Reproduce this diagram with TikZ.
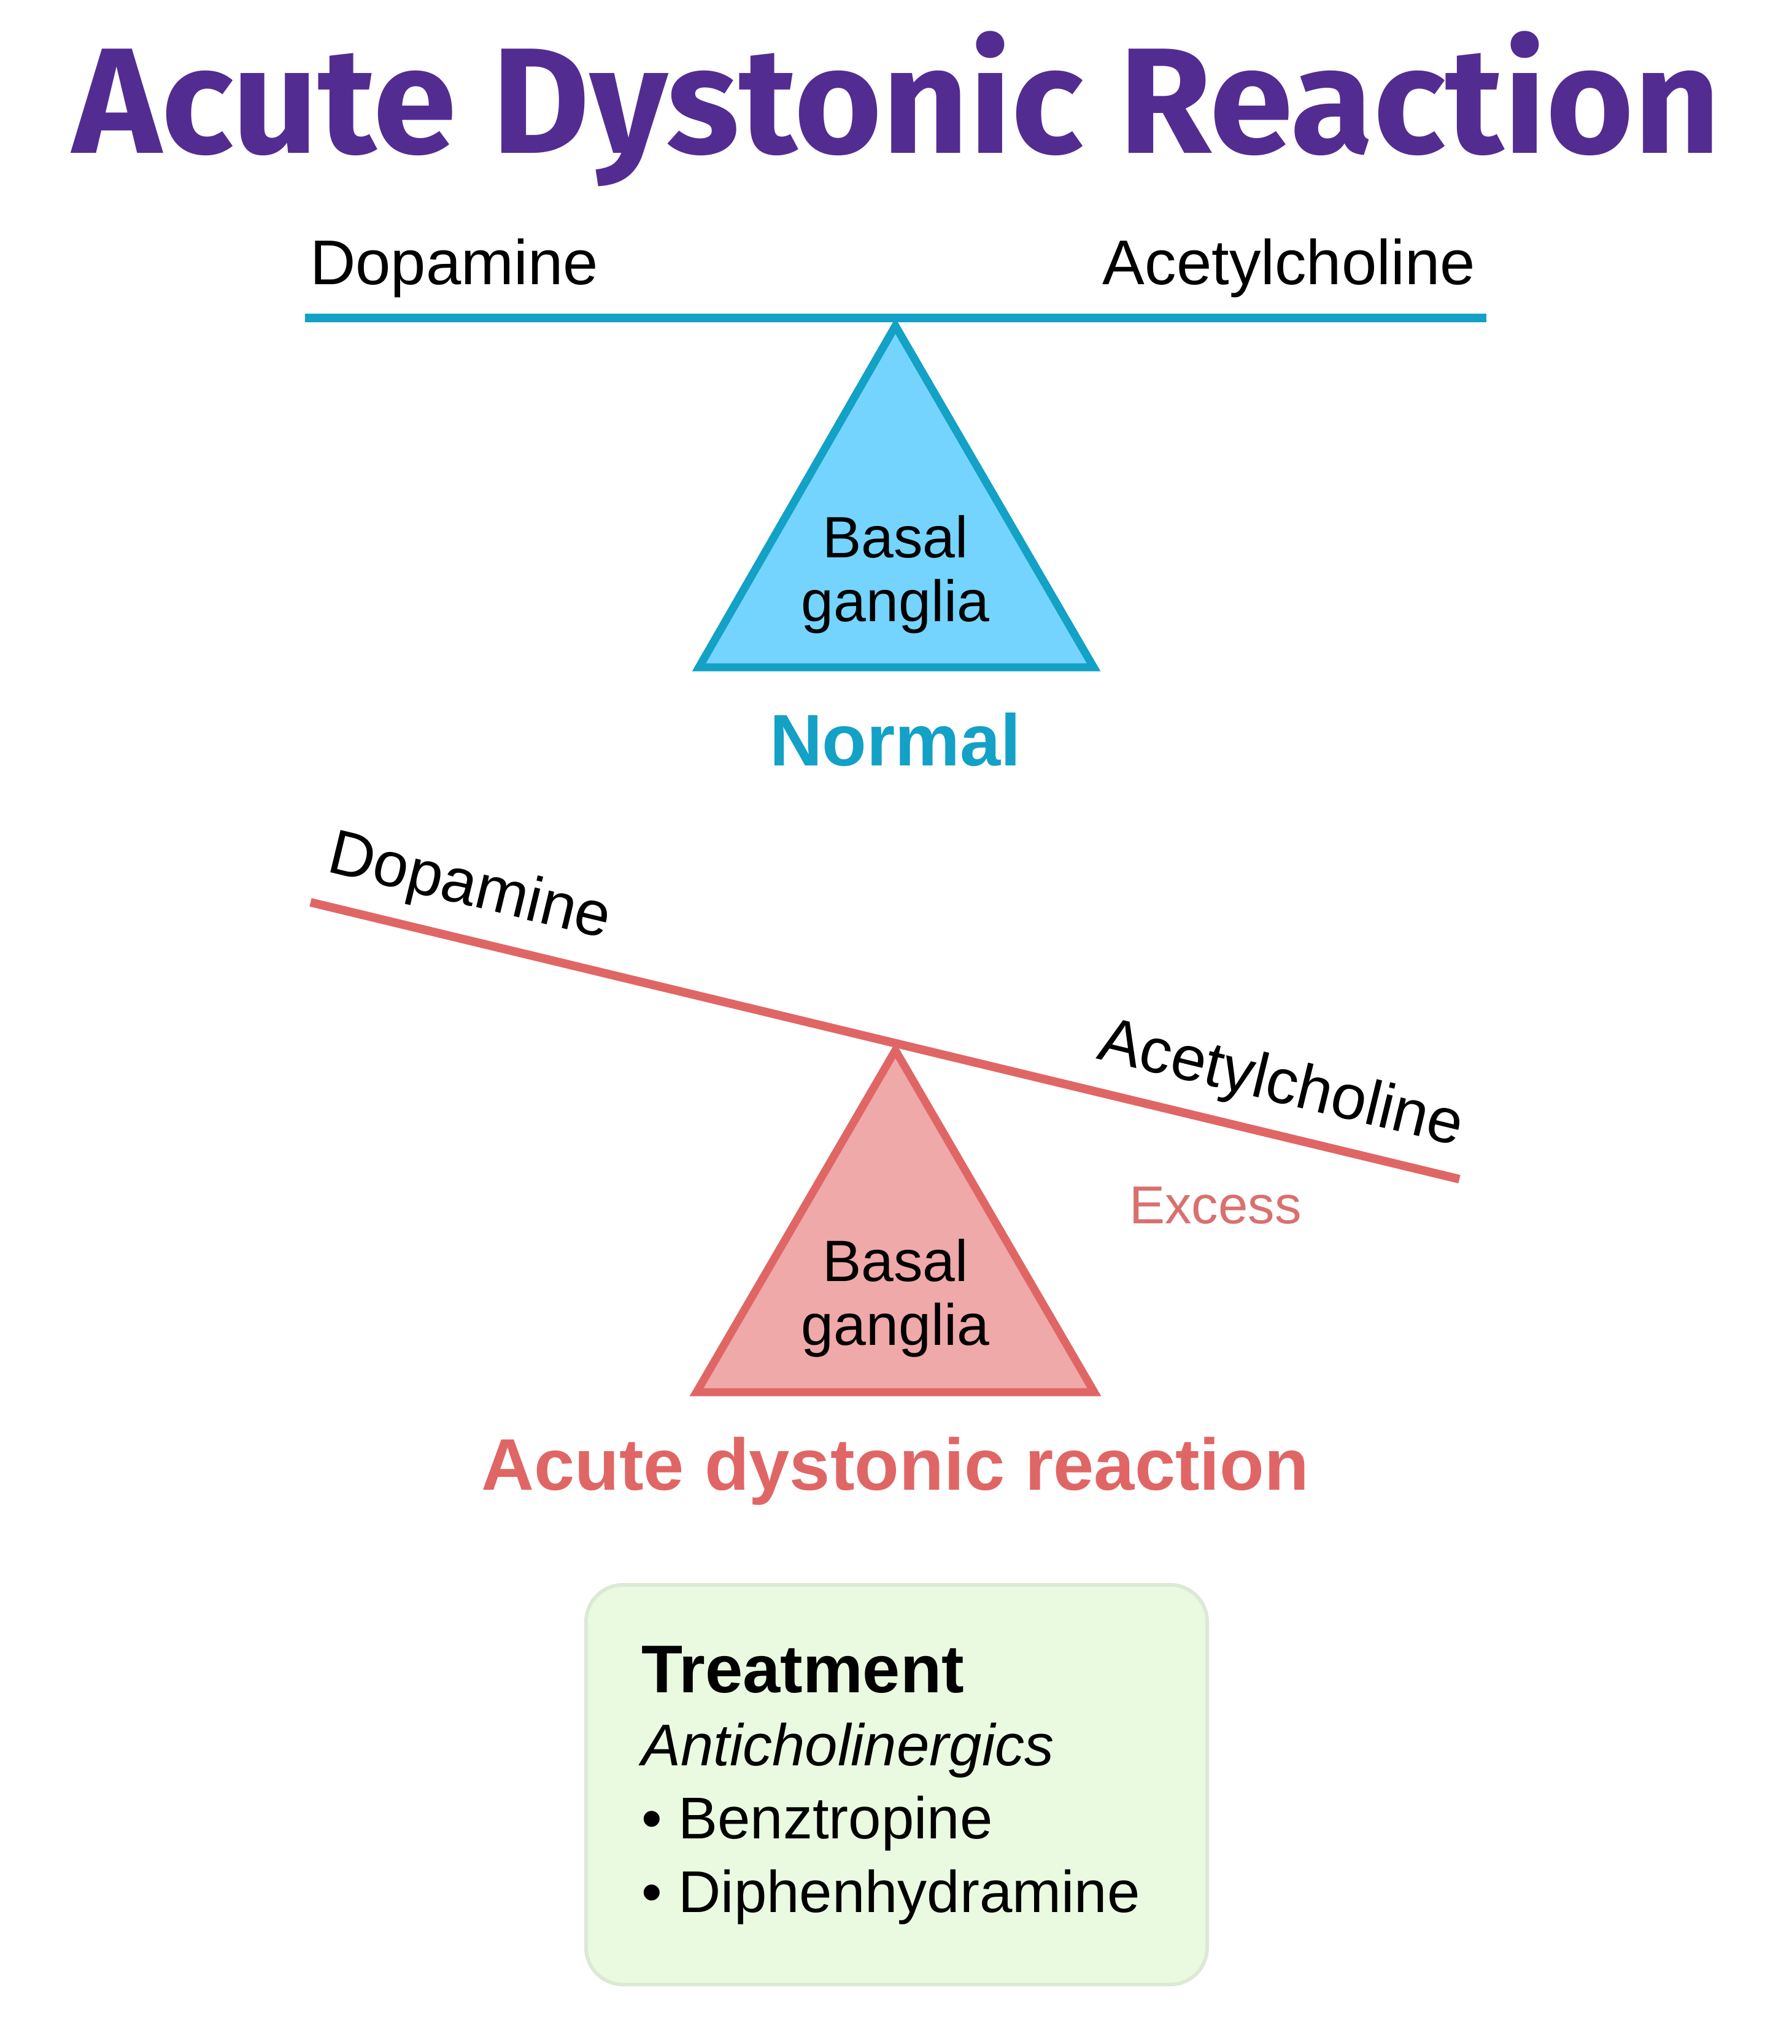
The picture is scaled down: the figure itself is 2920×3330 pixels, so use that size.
\documentclass[tikz,border=0pt]{standalone}
\usepackage{fontspec}
\setmainfont{Liberation Sans}
\newfontfamily\titlefont{Fira Sans}
\definecolor{titlepurple}{HTML}{532C91}
\definecolor{cyanline}{HTML}{13A1C6}
\definecolor{cyanfill}{HTML}{75D4FD}
\definecolor{redline}{HTML}{E06666}
\definecolor{redfill}{HTML}{EEA9A8}
\definecolor{excesscol}{HTML}{D9706F}
\definecolor{boxfill}{HTML}{E9FAE1}
\definecolor{boxline}{HTML}{DCE9D5}
\tikzset{
  lbl/.style={inner sep=0pt, font=\fontsize{103}{110}\selectfont},
  bglbl/.style={inner sep=0pt, align=center, font=\fontsize{95}{104}\selectfont},
  caption/.style={inner sep=0pt, font=\fontsize{119}{125}\selectfont\bfseries},
  beam/.style={line width=14pt, line cap=butt},
  pivot/.style={line width=13pt, line join=miter},
  boxtxt/.style={inner sep=0pt, anchor=base west, font=\fontsize{95}{104}\selectfont}
}
\begin{document}
\begin{tikzpicture}[x=1pt,y=-1pt]
\useasboundingbox (0,0) rectangle (2920,3330);
% title
\node[inner sep=0pt, anchor=base, text=titlepurple, font=\fontsize{245}{260}\selectfont\titlefont\bfseries] (title) at (1461,249) {Acute Dystonic Reaction};
% normal balance
\coordinate (nL) at (497,518);
\coordinate (nR) at (2422,518);
\draw[beam, cyanline] (nL) -- (nR);
\draw[pivot, draw=cyanline, fill=cyanfill] (1459,531) coordinate (napex) -- (1782,1087) coordinate (nbr) -- (1139,1087) coordinate (nbl) -- cycle;
\node[lbl, anchor=base west] (ndop) at (505,463) {Dopamine};
\node[lbl, anchor=base east] (nach) at (2404,463) {Acetylcholine};
\node[bglbl, anchor=base] (nbg1) at (1459,908) {Basal};
\node[bglbl, anchor=base] (nbg2) at (1459,1012) {ganglia};
\node[caption, anchor=base, text=cyanline] (normal) at (1459,1247) {Normal};
% acute dystonic reaction
\coordinate (aL) at (506,1470);
\coordinate (aR) at (2378,1921);
\draw[beam, redline] (aL) -- (aR);
\draw[pivot, draw=redline, fill=redfill] (1459,1711) coordinate (aapex) -- (1783,2268) coordinate (abr) -- (1135,2268) coordinate (abl) -- cycle;
\node[lbl, anchor=base west, rotate=-13.6] (adop) at (530,1419) {Dopamine};
\node[lbl, anchor=base west, rotate=-13.6] (aach) at (1785,1724) {Acetylcholine};
\node[inner sep=0pt, anchor=base west, text=excesscol, font=\fontsize{87}{95}\selectfont] (excess) at (1840,1993) {Excess};
\node[bglbl, anchor=base] (abg1) at (1459,2087) {Basal};
\node[bglbl, anchor=base] (abg2) at (1459,2191) {ganglia};
\node[caption, anchor=base, text=redline] (acute) at (1459,2427) {Acute dystonic reaction};
% treatment box
\draw[line width=6pt, draw=boxline, fill=boxfill, rounded corners=60pt] (955,2582) rectangle (1967,3233);
\node[inner sep=0pt, anchor=base west, font=\fontsize{110}{115}\selectfont\bfseries] (treat) at (1045,2757) {Treatment};
\node[boxtxt, font=\fontsize{96}{104}\selectfont\itshape] (anti) at (1045,2876) {Anticholinergics};
\node[boxtxt, font=\fontsize{96}{104}\selectfont] (benz) at (1045,2995) {• Benztropine};
\node[boxtxt, font=\fontsize{96}{104}\selectfont] (diph) at (1045,3115) {• Diphenhydramine};
\end{tikzpicture}
\end{document}
